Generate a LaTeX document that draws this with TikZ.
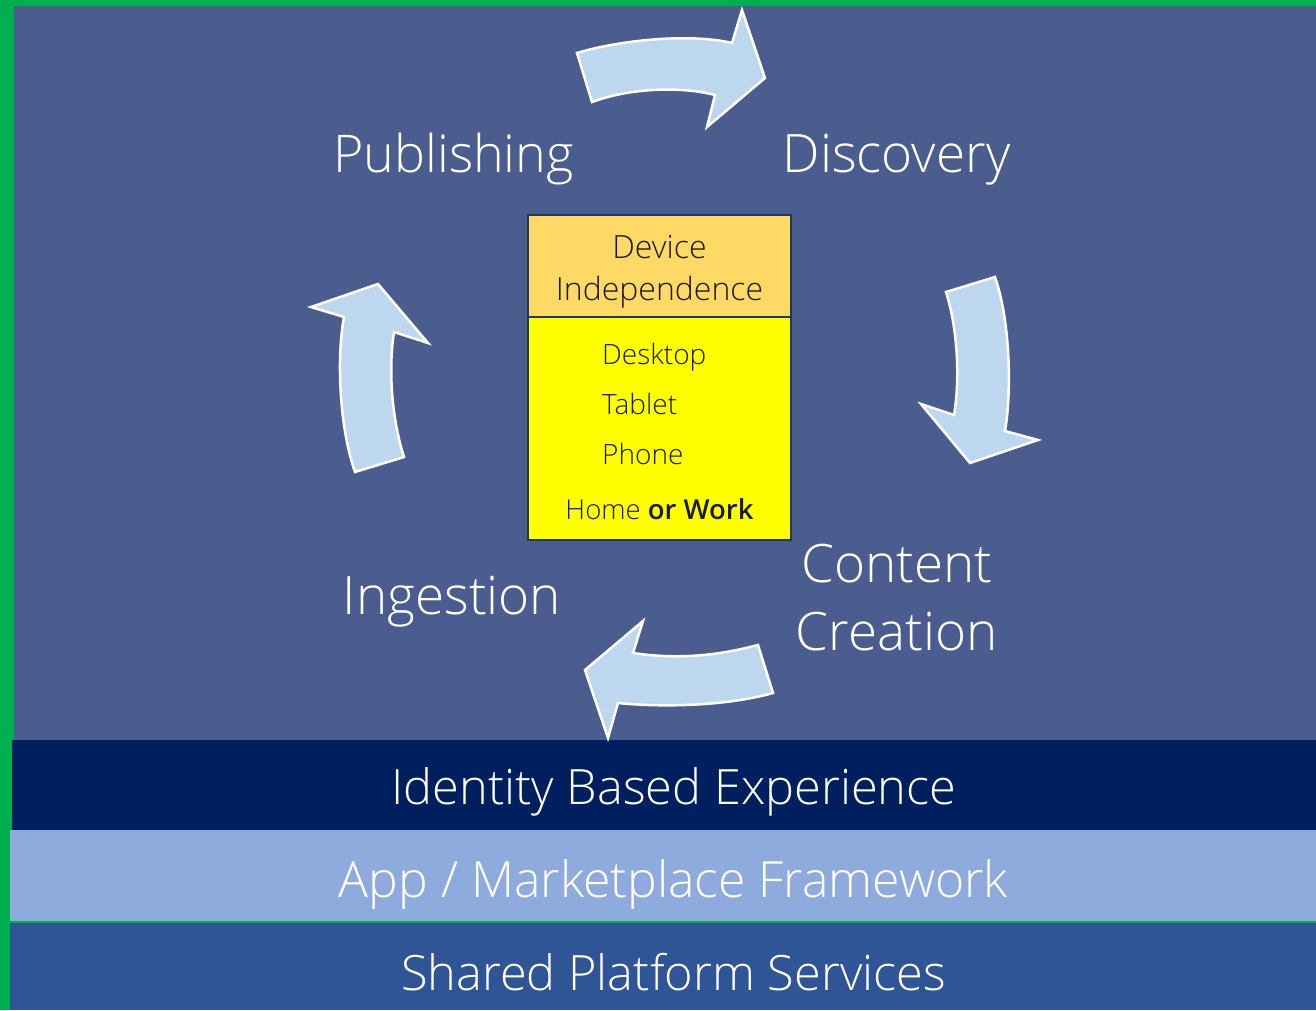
\documentclass[tikz,border=0pt]{standalone}
\usepackage{fontspec}
\setmainfont{Open Sans}
\IfFontExistsTF{Open Sans Light}{\newfontfamily\lightfont{Open Sans Light}}{\newfontfamily\lightfont{Open Sans}}
\IfFontExistsTF{Open Sans Semibold}{\newfontfamily\semifont{Open Sans Semibold}}{\newfontfamily\semifont{Open Sans}[FakeBold=1]}
\definecolor{frame}{HTML}{00B050}
\definecolor{bgpat}{HTML}{4A5D8E}
\definecolor{navy}{HTML}{001F5F}
\definecolor{lightband}{HTML}{8FAADC}
\definecolor{midband}{HTML}{2F5597}
\definecolor{arrowfill}{HTML}{BDD7EE}
\definecolor{headfill}{HTML}{FFD966}
\definecolor{bodyfill}{HTML}{FFFF00}
\definecolor{boxline}{HTML}{1F3864}
\definecolor{boxtext}{HTML}{1A1A1A}
\tikzset{
  cyclearrow/.style={fill=arrowfill, draw=white, line width=2.5pt, line join=miter},
  phase/.style={text=white, font=\lightfont\fontsize{53}{60}\selectfont, inner sep=0pt, anchor=base},
  bandtext/.style={text=white, font=\lightfont\fontsize{48.7}{56}\selectfont, inner sep=0pt, anchor=base},
  devhead/.style={text=boxtext, font=\lightfont\fontsize{32}{40}\selectfont, inner sep=0pt, anchor=base},
  devitem/.style={text=boxtext, font=\lightfont\fontsize{28}{32}\selectfont, inner sep=0pt, anchor=base west},
}
\begin{document}
\begin{tikzpicture}[x=1pt,y=-1pt]
\useasboundingbox (0,0) rectangle (1316,1010);
% frame and background
\fill[frame] (0,0) rectangle (1316,1010);
\fill[bgpat] (14,6) rectangle (1316,740);
\fill[navy] (12,740) rectangle (1316,830);
\fill[lightband] (10,830) rectangle (1316,921);
\fill[midband] (10,923) rectangle (1316,1010);
% cycle arrows
\draw[cyclearrow] (577,53) .. controls (620,40) and (690,33) .. (732,43) -- (742,10) -- (765,78) -- (707,127) -- (715,95) .. controls (680,86) and (630,88) .. (592,102) -- cycle;
\draw[cyclearrow] (946,292) -- (995,277) .. controls (1010,320) and (1012,390) .. (1005,431) -- (1038,440) -- (970,463) -- (921,404) -- (954,415) .. controls (960,380) and (958,330) .. (946,292) -- cycle;
\draw[cyclearrow] (758,645) -- (773,693) .. controls (730,705) and (670,708) .. (618,703) -- (608,738) -- (585,670) -- (643,621) -- (633,653) .. controls (680,660) and (720,655) .. (758,645) -- cycle;
\draw[cyclearrow] (355,472) -- (404,457) .. controls (392,420) and (388,370) .. (394,332) -- (428,343) -- (378,284) -- (311,307) -- (344,317) .. controls (336,360) and (340,430) .. (355,472) -- cycle;
% phase labels
\node[phase, font=\lightfont\fontsize{52}{60}\selectfont] (pub) at (453.5,172) {Publishing};
\node[phase] (disc) at (896.5,172) {Discovery};
\node[phase] (cc1) at (897,582) {Content};
\node[phase] (cc2) at (896.5,650) {Creation};
\node[phase] (ing) at (452,614) {Ingestion};
% device box
\node[draw=boxline, line width=2pt, fill=bodyfill, minimum width=263pt, minimum height=223pt, inner sep=0pt] (devbody) at (659.5,428.5) {};
\node[draw=boxline, line width=2pt, fill=headfill, minimum width=263pt, minimum height=102pt, inner sep=0pt] (devbox) at (659.5,266) {};
\node[devhead] (dev1) at (659.5,258) {Device};
\node[devhead] (dev2) at (659.5,300) {Independence};
\node[devitem] (desk) at (602,364) {Desktop};
\node[devitem] (tab) at (602,414) {Tablet};
\node[devitem] (pho) at (602,464) {Phone};
\node[devitem, anchor=base, font=\lightfont\fontsize{27.5}{32}\selectfont] (home) at (659.5,519) {Home {\semifont or Work}};
% bands
\node[bandtext] (ident) at (674,804) {Identity Based Experience};
\node[bandtext, font=\lightfont\fontsize{49.9}{56}\selectfont] (app) at (673.5,897) {App / Marketplace Framework};
\node[bandtext] (shared) at (673.5,990) {Shared Platform Services};
\end{tikzpicture}
\end{document}
